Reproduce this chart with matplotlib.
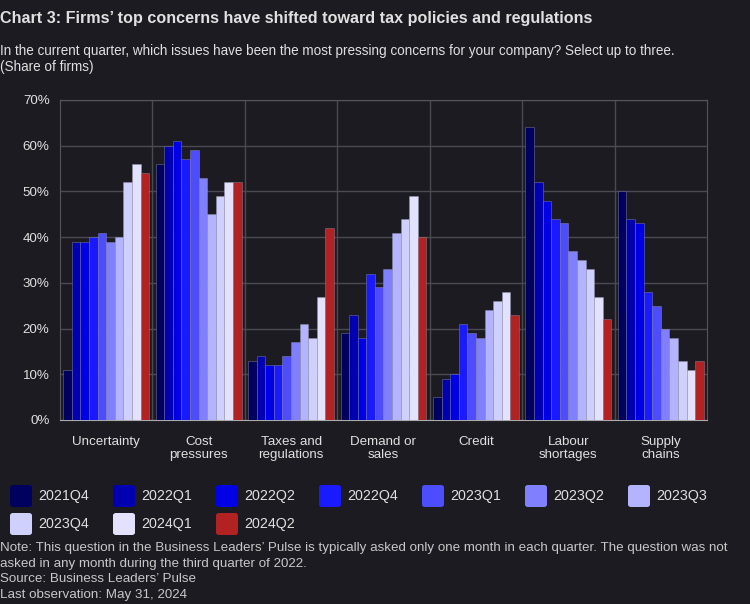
import matplotlib.pyplot as plt
import numpy as np
from matplotlib.patches import FancyBboxPatch

plt.rcParams['font.family'] = ['Liberation Sans', 'DejaVu Sans']

categorias = ['Uncertainty', 'Cost\npressures', 'Taxes and\nregulations', 'Demand or\nsales',
              'Credit', 'Labour\nshortages', 'Supply\nchains']
trimestres = ['2021Q4', '2022Q1', '2022Q2', '2022Q4', '2023Q1',
              '2023Q2', '2023Q3', '2023Q4', '2024Q1', '2024Q2']

q2021q4 = [11, 56, 13, 19, 5, 64, 50]
q2022q1 = [39, 60, 14, 23, 9, 52, 44]
q2022q2 = [39, 61, 12, 18, 10, 48, 43]
q2022q4 = [40, 57, 12, 32, 21, 44, 28]
q2023q1 = [41, 59, 14, 29, 19, 43, 25]
q2023q2 = [39, 53, 17, 33, 18, 37, 20]
q2023q3 = [40, 45, 21, 41, 24, 35, 18]
q2023q4 = [52, 49, 18, 44, 26, 33, 13]
q2024q1 = [56, 52, 27, 49, 28, 27, 11]
q2024q2 = [54, 52, 42, 40, 23, 22, 13]
series = [q2021q4, q2022q1, q2022q2, q2022q4, q2023q1,
          q2023q2, q2023q3, q2023q4, q2024q1, q2024q2]

colores = ['#00005e', '#0000b0', '#0000e6', '#1a1aff', '#4d4dff',
           '#8080ff', '#b3b3ff', '#d0d0ff', '#e2e2ff', '#b22222']

fondo = '#1c1b22'
texto = '#e0e0e0'

fig = plt.figure(figsize=(7.5, 6.04), dpi=100, facecolor=fondo)
ax = fig.add_axes([60 / 750, 1 - 420 / 604, 647 / 750, 320 / 604])
ax.set_facecolor(fondo)

x = np.arange(len(categorias))
ancho = 0.093
for i, (vals, c) in enumerate(zip(series, colores)):
    desplaz = (i - 4.5) * ancho
    ax.bar(x + desplaz, vals, width=ancho, color=c, edgecolor=(0.6, 0.6, 0.7, 0.45),
           linewidth=0.6, zorder=3)

ax.set_xlim(-0.5, len(categorias) - 0.5)
ax.set_ylim(0, 70)
ax.set_yticks(np.arange(0, 71, 10))
ax.set_yticklabels([f'{v}%' for v in range(0, 71, 10)])
ax.set_xticks(x)
ax.set_xticklabels(categorias, linespacing=1.15)
ax.set_xticks(np.arange(0.5, len(categorias) - 0.5, 1), minor=True)
ax.tick_params(axis='both', which='both', length=0, colors=texto, labelsize=9.6)
ax.tick_params(axis='x', pad=11.5)
ax.tick_params(axis='y', pad=7.5)
ax.grid(axis='y', color='#4a4a52', linewidth=1, zorder=0)
ax.grid(axis='x', which='minor', color='#4a4a52', linewidth=1, zorder=0)
for s in ax.spines.values():
    s.set_color('#55555d')
ax.spines['bottom'].set_color('#aaaaaa')

fig.text(0, 1 - 18 / 604, 'Chart 3: Firms’ top concerns have shifted toward tax policies and regulations',
         fontsize=11.6, fontweight='bold', color=texto, va='center')
fig.text(0, 1 - 51 / 604, 'In the current quarter, which issues have been the most pressing concerns for your company? Select up to three.',
         fontsize=9.75, color=texto, va='center')
fig.text(0, 1 - 67 / 604, '(Share of firms)', fontsize=9.75, color=texto, va='center')

# leyenda manual
for i, (nombre, c) in enumerate(zip(trimestres, colores)):
    fila, col = divmod(i, 7)
    x0 = 10 + col * 103
    yc = 496 + fila * 28
    caja = FancyBboxPatch((x0 / 750, 1 - (yc + 11) / 604), 22 / 750, 22 / 604,
                          boxstyle='round,pad=0,rounding_size=0.004', transform=fig.transFigure,
                          facecolor=c, edgecolor='none')
    fig.patches.append(caja)
    fig.text((x0 + 28) / 750, 1 - yc / 604, nombre, fontsize=10.3, color=texto, va='center')

notas = ['Note: This question in the Business Leaders’ Pulse is typically asked only one month in each quarter. The question was not',
         'asked in any month during the third quarter of 2022.',
         'Source: Business Leaders’ Pulse',
         'Last observation: May 31, 2024']
for k, linea in enumerate(notas):
    fig.text(0, 1 - (548 + k * 15.7) / 604, linea, fontsize=9.65, color='#c8c8c8', va='center')

plt.savefig('out.png', dpi=100, facecolor=fondo)
